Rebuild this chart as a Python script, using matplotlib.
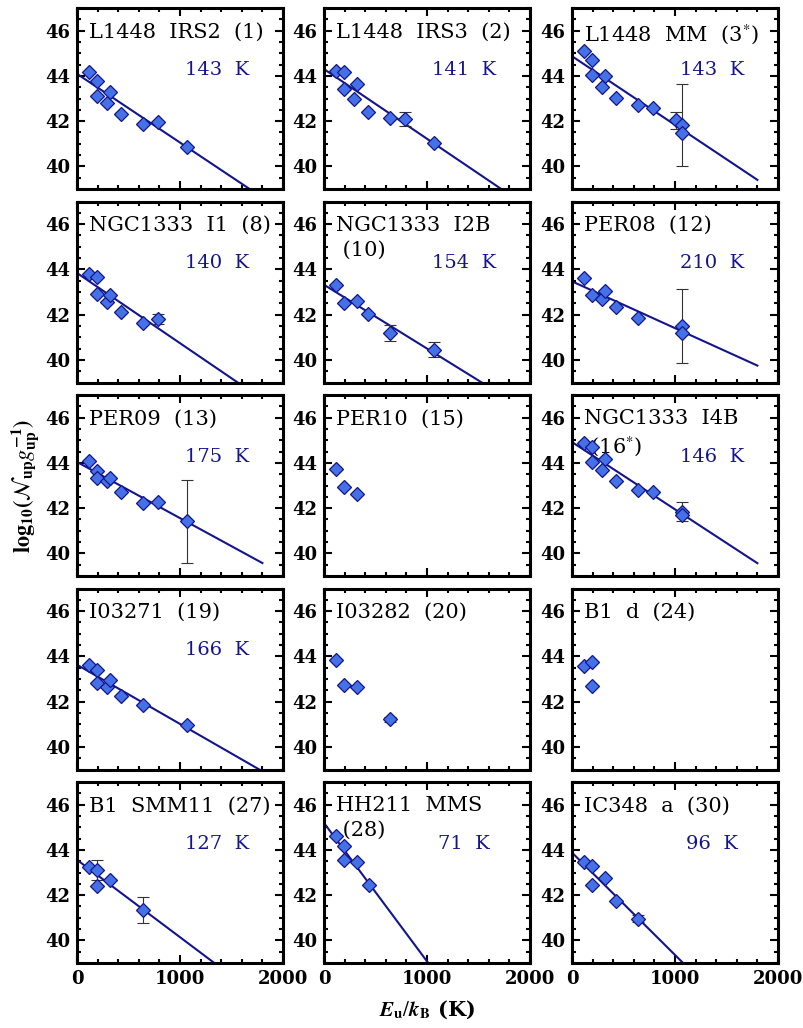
import numpy as np
import matplotlib
matplotlib.use('Agg')
import matplotlib.pyplot as plt
from matplotlib.ticker import MultipleLocator

plt.rcParams['font.family'] = 'DejaVu Serif'
plt.rcParams['mathtext.fontset'] = 'stix'

# source names (second line of long names indented)
names = ['L1448  IRS2  (1)', 'L1448  IRS3  (2)', 'L1448  MM  (3$^{*}$)',
         'NGC1333  I1  (8)', 'NGC1333  I2B\n (10)', 'PER08  (12)',
         'PER09  (13)', 'PER10  (15)', 'NGC1333  I4B\n (16$^{*}$)',
         'I03271  (19)', 'I03282  (20)', 'B1  d  (24)',
         'B1  SMM11  (27)', 'HH211  MMS\n (28)', 'IC348  a  (30)']

# rotational temperatures (K) and fit intercepts; None = no fit
temps = [143, 141, 143, 140, 154, 210, 175, None, 146, 166, None, None, 127, 71, 96]
icept = [44.09, 44.30, 44.87, 43.84, 43.32, 43.47, 44.04, None, 44.92, 43.63,
         None, None, 43.56, 45.19, 43.88]

# upper level energies (K), log10(N/g) and errors
e01 = [114, 194, 194, 294, 320, 432, 640, 782, 1070]
n01 = [44.18, 43.79, 43.11, 42.81, 43.29, 42.30, 41.88, 41.96, 40.87]
d01 = [0, 0, 0, 0, 0, 0, 0, 0, 0]

e02 = [114, 194, 194, 320, 294, 432, 640, 782, 1070]
n02 = [44.22, 44.15, 43.41, 43.63, 42.99, 42.40, 42.15, 42.10, 41.04]
d02 = [0, 0, 0, 0, 0, 0, 0, 0.30, 0]

e03 = [114, 194, 194, 320, 294, 432, 640, 782, 1010, 1070, 1070]
n03 = [45.11, 44.71, 44.03, 44.00, 43.51, 43.02, 42.70, 42.59, 42.04, 41.81, 41.48]
d03 = [0, 0, 0, 0, 0, 0, 0, 0, 0.38, 1.81, 0]

e04 = [114, 194, 194, 294, 320, 432, 640, 782]
n04 = [43.81, 43.66, 42.90, 42.58, 42.88, 42.13, 41.61, 41.79]
d04 = [0, 0, 0, 0, 0, 0, 0, 0.22]

e05 = [114, 194, 320, 432, 640, 1070]
n05 = [43.29, 42.50, 42.62, 42.01, 41.19, 40.45]
d05 = [0, 0, 0, 0, 0.37, 0.33]

e06 = [114, 194, 294, 320, 432, 640, 1070, 1070]
n06 = [43.62, 42.85, 42.69, 43.05, 42.32, 41.83, 41.49, 41.19]
d06 = [0, 0, 0, 0, 0, 0, 1.65, 0]

e07 = [114, 194, 194, 294, 320, 432, 640, 782, 1070]
n07 = [44.07, 43.63, 43.33, 43.19, 43.33, 42.70, 42.22, 42.25, 41.41]
d07 = [0, 0, 0, 0, 0, 0, 0, 0, 1.84]

e08 = [114, 194, 320]
n08 = [43.75, 42.93, 42.62]
d08 = [0, 0, 0]

e09 = [114, 194, 194, 320, 294, 432, 640, 782, 1070, 1070]
n09 = [44.89, 44.70, 44.03, 44.15, 43.70, 43.19, 42.81, 42.70, 41.85, 41.70]
d09 = [0, 0, 0, 0, 0, 0, 0, 0, 0.42, 0]

e10 = [114, 194, 194, 294, 320, 432, 640, 1070]
n10 = [43.60, 43.41, 42.81, 42.64, 42.96, 42.25, 41.85, 40.96]
d10 = [0, 0, 0, 0, 0, 0, 0, 0]

e11 = [114, 194, 320, 640]
n11 = [43.85, 42.74, 42.64, 41.21]
d11 = [0, 0, 0, 0.12]

e12 = [114, 194, 194]
n12 = [43.56, 43.73, 42.67]
d12 = [0, 0, 0]

e13 = [114, 194, 194, 320, 640]
n13 = [43.26, 43.11, 42.41, 42.67, 41.33]
d13 = [0, 0.46, 0, 0, 0.58]

e14 = [118, 198, 198, 320, 437]
n14 = [44.62, 44.18, 43.56, 43.48, 42.44]
d14 = [0, 0, 0, 0, 0]

e15 = [114, 194, 194, 320, 432, 640]
n15 = [43.48, 43.29, 42.44, 42.74, 41.73, 40.96]
d15 = [0, 0, 0, 0, 0, 0.15]

energies = [e01, e02, e03, e04, e05, e06, e07, e08, e09, e10, e11, e12, e13, e14, e15]
logn = [n01, n02, n03, n04, n05, n06, n07, n08, n09, n10, n11, n12, n13, n14, n15]
errs = [d01, d02, d03, d04, d05, d06, d07, d08, d09, d10, d11, d12, d13, d14, d15]

W, H = 804, 1028
fig = plt.figure(figsize=(W / 100, H / 100), dpi=100)

col_left = [77, 324, 572]
row_top = [8, 201.5, 395, 588.5, 782]
pw, ph = 206, 181

line_col = '#14148c'
fill_col = '#4472e6'

for i in range(15):
    r, c = divmod(i, 3)
    ax = fig.add_axes([col_left[c] / W, 1 - (row_top[r] + ph) / H, pw / W, ph / H])
    ax.set_xlim(0, 2000)
    ax.set_ylim(39, 47)

    e = np.array(energies[i])
    n = np.array(logn[i])
    d = np.array(errs[i])

    if temps[i] is not None:
        xx = np.array([0, 1800])
        ax.plot(xx, icept[i] - np.log10(np.e) * xx / temps[i], color=line_col, lw=1.5, zorder=2)
        ax.text(0.68, 0.66, f'{temps[i]}  K', transform=ax.transAxes, color=line_col,
                fontsize=14, ha='center', va='center')

    m = d > 0
    if m.any():
        ax.errorbar(e[m], n[m], yerr=d[m], fmt='none', ecolor='#333333', elinewidth=0.8,
                    capsize=4, capthick=0.8, zorder=3)
    ax.plot(e, n, 'D', ms=7, mfc=fill_col, mec=line_col, mew=0.9, zorder=4)

    # title lines drawn one by one so each keeps its own box
    for k, part in enumerate(names[i].split('\n')):
        ax.text(0.06, 0.92 - 0.135 * k, part, transform=ax.transAxes, fontsize=15,
                ha='left', va='top')

    ax.xaxis.set_major_locator(MultipleLocator(1000))
    ax.xaxis.set_minor_locator(MultipleLocator(200))
    ax.yaxis.set_major_locator(MultipleLocator(2))
    ax.yaxis.set_minor_locator(MultipleLocator(0.5))
    ax.tick_params(which='both', direction='in', top=True, right=True, width=1.5)
    ax.tick_params(which='major', length=6, labelsize=13, pad=5)
    ax.tick_params(which='minor', length=3)
    for s in ax.spines.values():
        s.set_linewidth(2.2)
    for lab in ax.get_xticklabels() + ax.get_yticklabels():
        lab.set_fontweight('bold')
    if r < 4:
        ax.set_xticklabels([])

fig.text(25 / W, 1 - 485.5 / H, r'$\mathbf{log_{10}(}\mathcal{N}_{\mathbf{up}}g_{\mathbf{up}}^{\mathbf{-1}}\mathbf{)}$',
         rotation=90, ha='center', va='center', fontsize=16)
fig.text(427 / W, 1 - 1010 / H, r'$\boldsymbol{E}_{\mathbf{u}}/\boldsymbol{k}_{\mathbf{B}}$ (K)',
         ha='center', va='center', fontsize=15, fontweight='bold')

fig.savefig('out.png', dpi=100)
